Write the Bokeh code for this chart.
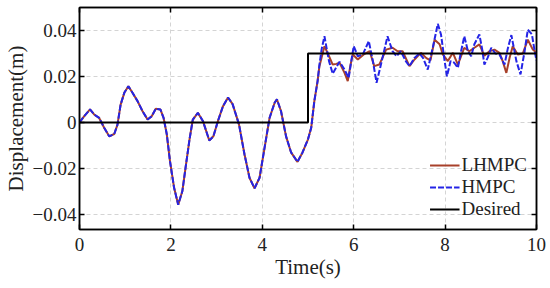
from bokeh.plotting import figure
from bokeh.models import FixedTicker, LinearAxis, Legend, LegendItem, Range1d
from bokeh.embed import file_html
from bokeh.resources import INLINE

# shared part (both controllers identical before the step)
t_common = [0, 0.10, 0.23, 0.32, 0.43, 0.54, 0.65, 0.76, 0.83, 0.90, 0.98, 1.07, 1.16, 1.27,
            1.38, 1.49, 1.58, 1.67, 1.77, 1.84, 1.91, 1.98, 2.07, 2.16, 2.25, 2.33, 2.41, 2.48,
            2.59, 2.70, 2.84, 2.93, 3.03, 3.14, 3.25, 3.35, 3.49, 3.61, 3.72, 3.83, 3.94, 4.05,
            4.16, 4.27, 4.32, 4.41, 4.52, 4.63, 4.77, 4.88, 5.00, 5.07, 5.14, 5.21]
v_common = [0, 0.0027, 0.0057, 0.0035, 0.002, -0.0023, -0.006, -0.005, -0.001, 0.0078, 0.0129,
            0.0158, 0.0129, 0.0093, 0.0049, 0.0013, 0.0027, 0.006, 0.0057, 0.002, -0.0051,
            -0.0168, -0.0284, -0.0357, -0.0299, -0.0183, -0.0070, 0.0013, 0.0042, 0.0007,
            -0.0078, -0.006, 0.0007, 0.0071, 0.0109, 0.008, -0.0008, -0.0138, -0.024, -0.0286,
            -0.024, -0.0109, 0.0021, 0.0086, 0.0101, 0.0049, -0.006, -0.013, -0.0171, -0.013,
            -0.0073, -0.0023, 0.0095, 0.018]

t_hmpc_tail = [5.25, 5.30, 5.36, 5.41, 5.46, 5.54, 5.62, 5.69, 5.80, 5.89, 5.95, 6.00, 6.09, 6.20,
               6.33, 6.42, 6.50, 6.57, 6.63, 6.74, 6.85, 6.94, 7.03, 7.14, 7.22, 7.33, 7.44, 7.52,
               7.62, 7.73, 7.84, 7.91, 7.99, 8.04, 8.12, 8.20, 8.28, 8.35, 8.42, 8.50, 8.57, 8.64,
               8.75, 8.81, 8.86, 8.93, 9.01, 9.10, 9.19, 9.30, 9.37, 9.45, 9.56, 9.65, 9.74, 9.81,
               9.90, 9.96, 10.0]
v_hmpc_tail = [0.0252, 0.032, 0.0375, 0.032, 0.0267, 0.0212, 0.024, 0.0264, 0.023, 0.0194, 0.027,
               0.0332, 0.0288, 0.0296, 0.0354, 0.0267, 0.0173, 0.023, 0.0281, 0.0375, 0.031,
               0.0288, 0.031, 0.0267, 0.0245, 0.0281, 0.03, 0.028, 0.023, 0.0325, 0.0429, 0.0383,
               0.0267, 0.0201, 0.0267, 0.026, 0.0238, 0.031, 0.0375, 0.031, 0.0288, 0.034, 0.0383,
               0.032, 0.0252, 0.0281, 0.0325, 0.030, 0.0296, 0.0252, 0.032, 0.038, 0.0267, 0.0209,
               0.031, 0.0404, 0.0383, 0.031, 0.027]

t_lhmpc_tail = [5.25, 5.36, 5.46, 5.54, 5.62, 5.69, 5.80, 5.87, 5.93, 5.98, 6.09, 6.22, 6.35, 6.45,
                6.56, 6.71, 6.85, 6.96, 7.07, 7.22, 7.33, 7.47, 7.59, 7.68, 7.77, 7.88, 7.95, 8.06,
                8.17, 8.28, 8.42, 8.53, 8.64, 8.75, 8.86, 8.97, 9.08, 9.19, 9.26, 9.34, 9.41, 9.48,
                9.59, 9.70, 9.81, 9.92, 10.0]
v_lhmpc_tail = [0.0245, 0.0332, 0.0288, 0.0252, 0.0255, 0.026, 0.0216, 0.018, 0.025, 0.0296,
                0.0274, 0.0296, 0.031, 0.0245, 0.0252, 0.0317, 0.0325, 0.031, 0.031, 0.0245,
                0.0274, 0.0303, 0.028, 0.027, 0.036, 0.034, 0.0296, 0.0267, 0.0303, 0.0252,
                0.0325, 0.031, 0.0325, 0.034, 0.029, 0.031, 0.0317, 0.0303, 0.0267, 0.0216, 0.028,
                0.0332, 0.0296, 0.03, 0.036, 0.0317, 0.0303]

t_desired = [0, 5, 5, 10]
v_desired = [0, 0, 0.03, 0.03]

x_ticks = [0, 2, 4, 6, 8, 10]
y_ticks = [-0.04, -0.02, 0, 0.02, 0.04]
y_tick_labels = {-0.04: "\u22120.04", -0.02: "\u22120.02", 0: "0", 0.02: "0.02", 0.04: "0.04"}

t_lhmpc = t_common + t_lhmpc_tail
v_lhmpc = v_common + v_lhmpc_tail
t_hmpc = t_common + t_hmpc_tail
v_hmpc = v_common + v_hmpc_tail

FONT = "Liberation Serif"

p = figure(width=550, height=288, output_backend="svg", toolbar_location=None,
           x_range=Range1d(0, 10), y_range=Range1d(-0.0465, 0.05),
           min_border_left=10, min_border_right=14, min_border_top=7, min_border_bottom=59)
p.background_fill_color = "white"
p.border_fill_color = "white"
p.outline_line_color = "black"
p.outline_line_width = 1.5

r1 = p.line(t_lhmpc, v_lhmpc, line_color="#A8402A", line_width=2)
r2 = p.line(t_hmpc, v_hmpc, line_color="#2424E6", line_width=2, line_dash="6 2")
r3 = p.line(t_desired, v_desired, line_color="black", line_width=2)

for ax in p.xaxis + p.yaxis:
    ax.major_tick_in = 5
    ax.major_tick_out = 0
    ax.minor_tick_in = 0
    ax.minor_tick_out = 0
    ax.axis_line_width = 1.5
    ax.major_tick_line_width = 1.5
    ax.major_label_text_font = FONT
    ax.major_label_text_font_size = "19px"
    ax.major_label_text_color = "#222222"
    ax.axis_label_text_font = FONT
    ax.axis_label_text_font_size = "21px"
    ax.axis_label_text_font_style = "normal"
    ax.axis_label_text_color = "#222222"

p.xaxis.ticker = FixedTicker(ticks=x_ticks)
p.yaxis.ticker = FixedTicker(ticks=y_ticks)
p.yaxis.major_label_overrides = y_tick_labels
p.xaxis.axis_label = "Time(s)"
p.yaxis.axis_label = "Displacement(m)"
p.xaxis.major_label_standoff = 8
p.yaxis.major_label_standoff = 3
p.xaxis.axis_label_standoff = 1
p.yaxis.axis_label_standoff = 2

# box-style ticks on top and right (no labels)
blank_x = {t: "" for t in x_ticks}
blank_y = {t: "" for t in y_ticks}
top = LinearAxis(ticker=FixedTicker(ticks=x_ticks), major_label_overrides=blank_x,
                 major_tick_in=5, major_tick_out=0, minor_tick_in=0, minor_tick_out=0,
                 axis_line_width=1.5, major_tick_line_width=1.5, major_label_standoff=0)
right = LinearAxis(ticker=FixedTicker(ticks=y_ticks), major_label_overrides=blank_y,
                   major_tick_in=5, major_tick_out=0, minor_tick_in=0, minor_tick_out=0,
                   axis_line_width=1.5, major_tick_line_width=1.5, major_label_standoff=0)
p.add_layout(top, "above")
p.add_layout(right, "right")

p.xgrid.ticker = FixedTicker(ticks=x_ticks)
p.ygrid.ticker = FixedTicker(ticks=y_ticks)
for g in (p.xgrid[0], p.ygrid[0]):
    g.grid_line_color = "#d4d4d4"
    g.grid_line_dash = "4 3"
    g.grid_line_width = 1

legend = Legend(items=[LegendItem(label="LHMPC", renderers=[r1]),
                       LegendItem(label="HMPC", renderers=[r2]),
                       LegendItem(label="Desired", renderers=[r3])],
                location="bottom_right", label_text_font=FONT, label_text_font_size="19px",
                label_text_color="#222222", border_line_color=None, background_fill_alpha=0,
                glyph_width=30, glyph_height=20, label_standoff=2, spacing=0, padding=5,
                margin=9, label_height=20)
p.add_layout(legend)

open("out.html", "w").write(file_html(p, INLINE))
